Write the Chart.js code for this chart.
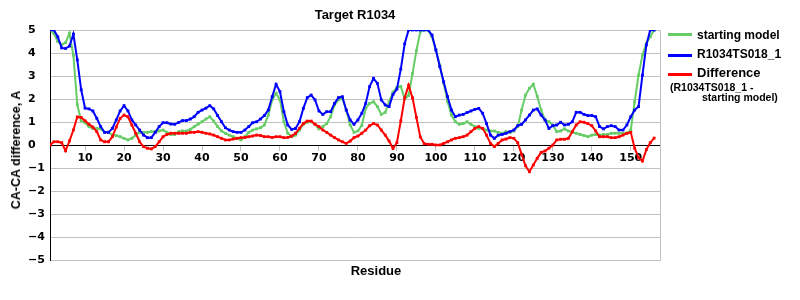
<!DOCTYPE html>
<html>
<head>
<meta charset="utf-8">
<script src="https://cdn.jsdelivr.net/npm/chart.js@4.4.1/dist/chart.umd.min.js"></script>
<style>
html,body{margin:0;padding:0;background:#fff;}
#wrap{position:relative;width:800px;height:300px;font-family:"Liberation Sans",Arial,sans-serif;font-weight:bold;color:#000;overflow:hidden;}
#c{position:absolute;left:0;top:0;}
.ytitle{position:absolute;left:16px;top:150px;transform:translate(-50%,-50%) rotate(-90deg);font-size:12.5px;white-space:nowrap;}
.xtitle{position:absolute;left:376px;top:270px;transform:translate(-50%,-50%);font-size:13px;white-space:nowrap;}
.lline{position:absolute;left:668px;width:24px;height:3px;}
.ltext{position:absolute;left:697px;font-size:12px;line-height:16px;white-space:nowrap;}
.lsub{position:absolute;font-size:10.5px;line-height:12px;white-space:nowrap;}
</style>
</head>
<body>
<div id="wrap">
<canvas id="c" width="800" height="300"></canvas>
<div class="ytitle" id="ytitle"></div>
<div class="xtitle" id="xtitle"></div>
<div id="legend"></div>
</div>
<script>
// ---- data ----
const chartTitle = 'Target R1034';
const xAxisTitle = 'Residue';
const yAxisTitle = 'CA-CA difference, A';
const seriesNames = ['starting model', 'R1034TS018_1', 'Difference'];
const differenceNote = ['(R1034TS018_1 -', 'starting model)'];

const residues = [1,2,3,4,5,6,7,8,9,10,11,12,13,14,15,16,17,18,19,20,
21,22,23,24,25,26,27,28,29,30,31,32,33,34,35,36,37,38,39,40,
41,42,43,44,45,46,47,48,49,50,51,52,53,54,55,56,57,58,59,60,
61,62,63,64,65,66,67,68,69,70,71,72,73,74,75,76,77,78,79,80,
81,82,83,84,85,86,87,88,89,90,91,92,93,94,95,96,97,98,99,100,
101,102,103,104,105,106,107,108,109,110,111,112,113,114,115,116,117,118,119,120,
121,122,123,124,125,126,127,128,129,130,131,132,133,134,135,136,137,138,139,140,
141,142,143,144,145,146,147,148,149,150,151,152,153,154,155,156];

const startingModel = [5,4.85,4.5,4.37,4.45,4.86,3.9,1.75,1.05,0.97,
0.8,0.72,0.72,0.7,0.55,0.55,0.43,0.41,0.36,0.29,
0.22,0.29,0.43,0.55,0.55,0.55,0.58,0.58,0.61,0.65,
0.55,0.46,0.46,0.58,0.61,0.61,0.68,0.8,0.91,1.01,
1.13,1.23,1.04,0.8,0.61,0.51,0.43,0.36,0.29,0.22,
0.36,0.55,0.65,0.7,0.75,0.87,1.3,1.96,2.25,1.96,
1.01,0.51,0.36,0.43,0.65,0.9,0.99,1.01,0.9,0.7,
0.8,0.93,1.23,1.74,1.96,2.03,1.52,0.87,0.55,0.61,
0.85,1.59,1.81,1.88,1.67,1.33,1.42,1.88,2.3,2.5,
2.55,2.0,2.15,3.1,4.1,4.93,5,5,4.71,4.13,
3.48,2.68,1.88,1.3,1.01,0.9,0.93,1.01,0.9,0.8,
0.72,0.72,0.65,0.61,0.61,0.55,0.51,0.58,0.55,0.61,
0.8,1.52,2.17,2.46,2.64,2.12,1.52,1.09,1.01,0.87,
0.58,0.61,0.7,0.61,0.55,0.51,0.46,0.41,0.36,0.43,
0.46,0.43,0.46,0.46,0.51,0.51,0.51,0.51,0.51,0.65,
1.88,3.04,3.91,4.42,4.71,5];

const targetModel = [5,5,4.7,4.22,4.2,4.3,4.82,3.7,2.4,1.6,
1.57,1.48,1.16,0.8,0.55,0.55,0.72,1.09,1.48,1.71,
1.48,1.09,0.87,0.65,0.43,0.32,0.32,0.55,0.8,0.97,
0.97,0.91,0.9,0.98,1.06,1.06,1.13,1.23,1.42,1.52,
1.6,1.71,1.57,1.28,1.01,0.75,0.65,0.58,0.55,0.55,
0.65,0.8,0.97,1.01,1.13,1.28,1.52,2.1,2.64,2.32,
1.45,0.87,0.68,0.72,1.01,1.59,2.06,2.17,1.96,1.48,
1.33,1.45,1.45,1.81,2.06,2.1,1.52,1.09,0.9,1.09,
1.38,1.81,2.54,2.9,2.68,1.96,1.74,1.67,2.2,2.43,
3.3,4.4,5,5,5,5,5,5,4.78,4.13,
3.41,2.75,2.1,1.52,1.23,1.3,1.33,1.41,1.48,1.55,
1.59,1.38,0.93,0.43,0.29,0.43,0.46,0.51,0.58,0.65,
0.84,0.9,1.09,1.3,1.52,1.57,1.3,1.09,0.72,0.84,
0.87,0.99,0.87,0.9,1.01,1.42,1.42,1.33,1.28,1.28,
1.23,0.8,0.7,0.8,0.84,0.8,0.65,0.65,0.87,1.23,
1.52,1.67,3.04,4.35,5,5];

const difference = [0,0.14,0.14,0.1,-0.25,0.18,0.65,1.22,1.2,1.05,
0.9,0.78,0.58,0.22,0.14,0.14,0.36,0.78,1.16,1.3,
1.23,0.87,0.51,0.14,-0.07,-0.14,-0.17,-0.07,0.14,0.36,
0.46,0.51,0.51,0.51,0.51,0.51,0.55,0.55,0.58,0.55,
0.51,0.48,0.43,0.36,0.29,0.22,0.22,0.26,0.29,0.32,
0.33,0.36,0.39,0.43,0.41,0.36,0.36,0.33,0.36,0.36,
0.32,0.33,0.39,0.51,0.72,0.93,1.04,1.04,0.9,0.8,
0.65,0.55,0.43,0.32,0.22,0.14,0.07,0.17,0.32,0.39,
0.51,0.65,0.84,0.93,0.87,0.65,0.43,0.17,-0.15,0.1,
1.05,2.05,2.6,2.05,1.2,0.35,0.06,0.03,0.03,0,
0,0.07,0.14,0.22,0.29,0.32,0.36,0.43,0.58,0.72,
0.8,0.72,0.43,0.07,-0.07,0.07,0.22,0.26,0.32,0.29,
0.1,-0.4,-0.9,-1.16,-0.87,-0.58,-0.32,-0.26,-0.14,0,
0.22,0.25,0.25,0.29,0.58,0.87,1.01,0.99,0.93,0.84,
0.61,0.36,0.36,0.36,0.32,0.32,0.36,0.43,0.51,0.55,
-0.14,-0.55,-0.7,-0.2,0.1,0.3];

const xTicks = [10,20,30,40,50,60,70,80,90,100,110,120,130,140,150];
const yTicks = [-5,-4,-3,-2,-1,0,1,2,3,4,5];
const colors = ['#66cc66', '#0000ff', '#ff0000'];

// ---- text elements ----
document.getElementById('ytitle').textContent = yAxisTitle;
document.getElementById('xtitle').textContent = xAxisTitle;
const leg = document.getElementById('legend');
const legRows = [
  {line: 34, textTop: 26.8, size: 12},
  {line: 55, textTop: 46.4, size: 12},
  {line: 74, textTop: 64.8, size: 13}
];
seriesNames.forEach((name, i) => {
  const l = document.createElement('div');
  l.className = 'lline';
  l.style.top = (legRows[i].line - 1.5) + 'px';
  l.style.background = colors[i];
  leg.appendChild(l);
  const t = document.createElement('div');
  t.className = 'ltext';
  t.style.top = legRows[i].textTop + 'px';
  t.style.fontSize = legRows[i].size + 'px';
  t.textContent = name;
  leg.appendChild(t);
});
const subPos = [{left: 670, top: 80.9}, {left: 702, top: 91.4}];
differenceNote.forEach((s, i) => {
  const d = document.createElement('div');
  d.className = 'lsub';
  d.style.left = subPos[i].left + 'px';
  d.style.top = subPos[i].top + 'px';
  d.textContent = s;
  leg.appendChild(d);
});

// ---- chart ----
const series = [startingModel, targetModel, difference];
const drawOrder = [2, 1, 0];
const tickFont = {family: 'DejaVu Sans', size: 11, weight: 'bold'};

new Chart(document.getElementById('c'), {
  type: 'line',
  data: {
    datasets: series.map((vals, i) => ({
      label: seriesNames[i],
      data: residues.map((r, j) => ({x: r, y: vals[j]})),
      borderColor: colors[i],
      backgroundColor: colors[i],
      pointBackgroundColor: colors[i],
      order: drawOrder[i]
    }))
  },
  options: {
    responsive: false,
    animation: false,
    devicePixelRatio: 1,
    layout: {padding: {left: 28, right: 140, top: 0, bottom: 40}},
    plugins: {
      legend: {display: false},
      tooltip: {enabled: false},
      title: {
        display: true, text: chartTitle, fullSize: false, color: '#000',
        font: {family: 'Liberation Sans', size: 13, weight: 'bold', lineHeight: 1.2},
        padding: {top: 8, bottom: 6.4}
      }
    },
    elements: {
      line: {borderWidth: 2, tension: 0},
      point: {radius: 2, pointStyle: 'rect', borderWidth: 0, hoverRadius: 2}
    },
    scales: {
      x: {
        type: 'linear', min: 1, max: 157.5,
        position: {y: 0},
        afterFit(s) { s.height = 0; },
        afterBuildTicks(s) { s.ticks = xTicks.map(v => ({value: v})); },
        grid: {drawOnChartArea: false, drawTicks: true, tickLength: 5, tickColor: '#c0c0c0'},
        border: {color: '#000', width: 1},
        ticks: {font: tickFont, color: '#000', padding: 2, maxRotation: 0, autoSkip: false}
      },
      y: {
        min: -5, max: 5,
        afterFit(s) { s.width = 22; },
        afterBuildTicks(s) { s.ticks = yTicks.map(v => ({value: v})); },
        grid: {color: '#c0c0c0', drawTicks: false},
        border: {color: '#000', width: 1},
        ticks: {
          font: tickFont, color: '#000', padding: 0, crossAlign: 'far',
          callback: v => (v < 0 ? '\u2212' + Math.abs(v) : String(v))
        }
      },
      y2: {
        position: 'right', min: -5, max: 5,
        afterFit(s) { s.width = 0; },
        ticks: {display: false},
        grid: {drawOnChartArea: false, drawTicks: false},
        border: {color: '#c0c0c0', width: 1}
      }
    }
  }
});
</script>
</body>
</html>
